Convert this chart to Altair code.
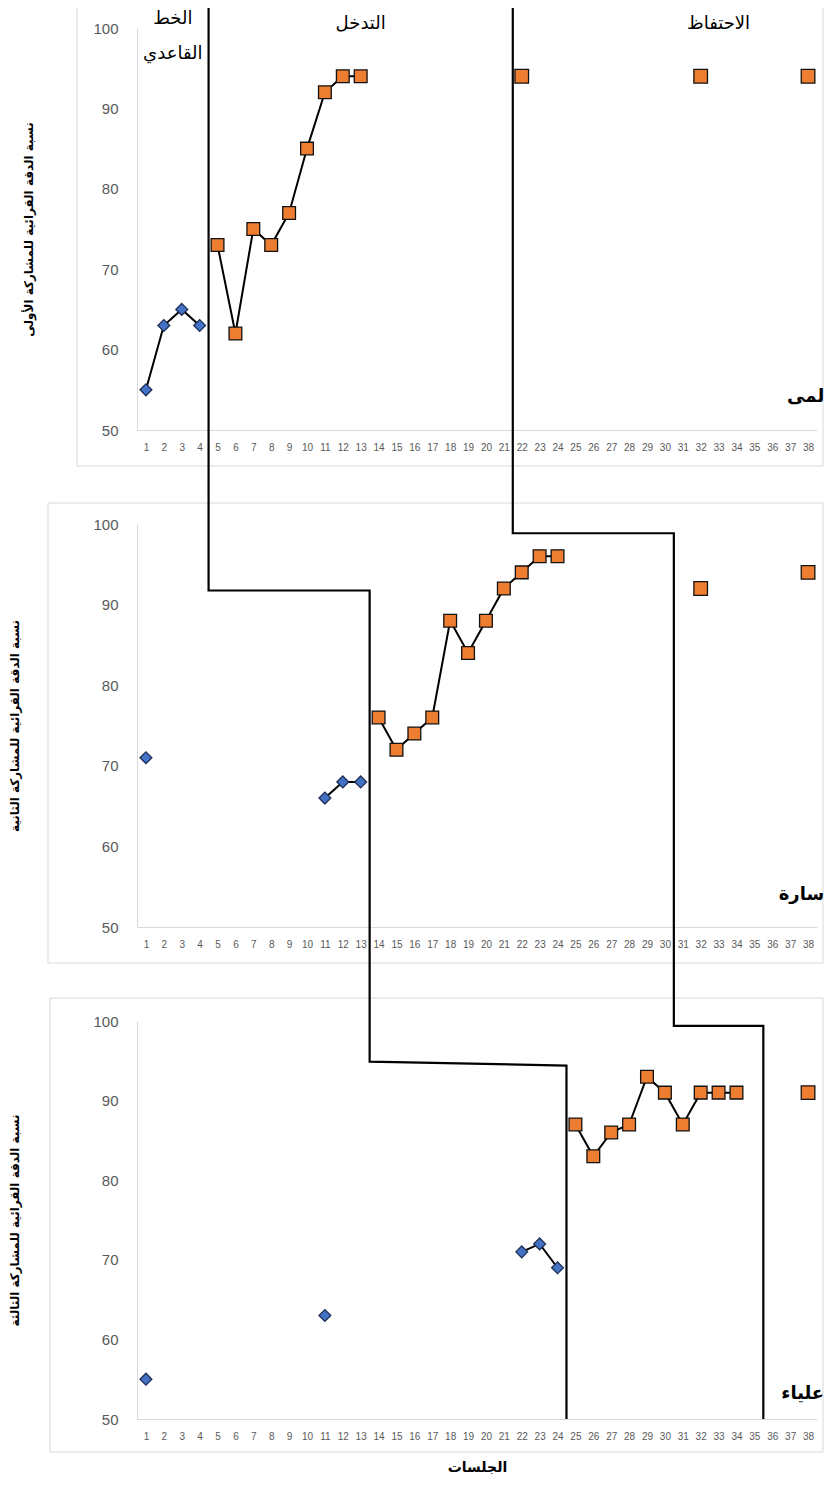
import altair as alt
import pandas as pd

# ---------------- data ----------------
sessions_p1 = [1, 2, 3, 4, 5, 6, 7, 8, 9, 10, 11, 12, 13, 22, 32, 38]
scores_p1 = [55, 63, 65, 63, 73, 62, 75, 73, 77, 85, 92, 94, 94, 94, 94, 94]
phases_p1 = ["baseline"] * 4 + ["intervention"] * 9 + ["maintenance"] * 3

sessions_p2 = [1, 11, 12, 13, 14, 15, 16, 17, 18, 19, 20, 21, 22, 23, 24, 32, 38]
scores_p2 = [71, 66, 68, 68, 76, 72, 74, 76, 88, 84, 88, 92, 94, 96, 96, 92, 94]
phases_p2 = ["baseline"] * 4 + ["intervention"] * 11 + ["maintenance"] * 2

sessions_p3 = [1, 11, 22, 23, 24, 25, 26, 27, 28, 29, 30, 31, 32, 33, 34, 38]
scores_p3 = [55, 63, 71, 72, 69, 87, 83, 86, 87, 93, 91, 87, 91, 91, 91, 91]
phases_p3 = ["baseline"] * 5 + ["intervention"] * 10 + ["maintenance"] * 1

participant_names = ["لمى", "سارة", "علياء"]
y_titles = [
    "نسبة الدقة القرائية للمشاركة الأولى",
    "نسبة الدقة القرائية للمشاركة الثانية",
    "نسبة الدقة القرائية للمشاركة الثالثة",
]
x_title = "الجلسات"
phase_labels = ["الخط", "القاعدي", "التدخل", "الاحتفاظ"]
phase_label_x = [2.5, 2.5, 13.0, 33.0]
phase_label_y = [101.1, 96.8, 100.5, 100.5]
name_x = 38.9
name_y = [54.1, 54.0, 53.2]

# phase-change boundaries (between sessions) for each participant
change_intervention = [4.5, 13.5, 24.5]
change_maintenance = [21.5, 30.5, 35.5]
# levels (start, end) of the horizontal step drawn inside panels 2 and 3
step_intervention = [None, (91.75, 91.75), (94.9, 94.4)]
step_maintenance = [None, (98.85, 98.85), (99.4, 99.4)]

x_ticks = list(range(1, 39))
y_ticks = [50, 60, 70, 80, 90, 100]

# ---------------- layout ----------------
W = 680
H = [402, 403, 398]
S = 94          # gap between panel plot areas
TOP_PX = 21     # space above first plot area
frame_left = [-60, -89, -87]
frame_top = [-21, -21, -23]
frame_bottom = [36, 36, 33]
frame_right = W + 6
y_title_pad = [57, 71, 71]

BLUE = "#4472C4"
ORANGE = "#ED7D31"

SHAPES = alt.Scale(domain=["baseline", "intervention", "maintenance"],
                   range=["diamond", "square", "square"])
FILLS = alt.Scale(domain=["baseline", "intervention", "maintenance"],
                  range=[BLUE, ORANGE, ORANGE])
STROKES = alt.Scale(domain=["baseline", "intervention", "maintenance"],
                    range=["#1F2F55", "#111111", "#111111"])
SIZES = alt.Scale(domain=["baseline", "intervention", "maintenance"],
                  range=[140, 185, 185])


def phase_paths(k):
    """Vertices of the phase-change lines inside panel k."""
    rows = []
    up = (TOP_PX if k == 0 else S / 2) * 50 / H[k]
    down = 0 if k == 2 else (S / 2) * 50 / H[k]
    for name, changes, steps in (("A", change_intervention, step_intervention),
                                 ("B", change_maintenance, step_maintenance)):
        if k == 0:
            pts = [(changes[0], 100 + up), (changes[0], 50 - down)]
        else:
            s0, s1 = steps[k]
            pts = [(changes[k - 1], 100 + up), (changes[k - 1], s0),
                   (changes[k], s1), (changes[k], 50 - down)]
        for i, (xv, yv) in enumerate(pts):
            rows.append({"x": xv, "y": yv, "seg": name, "i": i})
    return pd.DataFrame(rows)


def panel(k, sessions, scores, phases):
    run, r = [], 0
    for i in range(len(sessions)):
        if i > 0 and not (sessions[i] == sessions[i - 1] + 1 and phases[i] == phases[i - 1]):
            r += 1
        run.append(r)
    df = pd.DataFrame({"session": sessions, "score": scores, "phase": phases, "run": run})

    xscale = alt.Scale(domain=[0.5, 38.5], nice=False, zero=False)
    yscale = alt.Scale(domain=[50, 100], nice=False, zero=False)
    xaxis = alt.Axis(values=x_ticks, format="d", labelFontSize=10, labelColor="#595959",
                     labelFont="Liberation Sans", labelPadding=12, labelOverlap=False,
                     labelFlush=False, ticks=False, tickSize=0, grid=False,
                     domainColor="#d9d9d9", domainWidth=1,
                     title=(x_title if k == 2 else ""), titleFont="DejaVu Sans",
                     titleFontSize=14, titleFontWeight="bold", titleColor="black",
                     titlePadding=19)
    yaxis = alt.Axis(values=y_ticks, labelFontSize=15, labelColor="#595959",
                     labelFont="Liberation Sans", labelPadding=19, ticks=False, tickSize=0,
                     grid=False, domainColor="#d9d9d9", domainWidth=1,
                     title=y_titles[k], titleFont="DejaVu Sans", titleFontSize=12,
                     titleFontWeight="bold", titleColor="black", titlePadding=y_title_pad[k])

    def X(f):
        return alt.X(f, type="quantitative", scale=xscale, axis=xaxis)

    def Y(f):
        return alt.Y(f, type="quantitative", scale=yscale, axis=yaxis)

    frame = alt.Chart(alt.Data(values=[{"f": 1}])).mark_rect(
        fillOpacity=0, stroke="#d9d9d9", strokeWidth=1
    ).encode(
        x=alt.value(frame_left[k]), x2=alt.value(frame_right),
        y=alt.value(frame_top[k]), y2=alt.value(H[k] + frame_bottom[k]),
    )

    plines = alt.Chart(phase_paths(k)).mark_line(
        color="black", strokeWidth=2.2, clip=False
    ).encode(x=X("x"), y=Y("y"), detail="seg:N", order=alt.Order("i:Q"))

    dlines = alt.Chart(df).mark_line(color="black", strokeWidth=2).encode(
        x=X("session"), y=Y("score"), detail="run:N", order=alt.Order("session:Q")
    )

    points = alt.Chart(df).mark_point(filled=True, opacity=1, strokeWidth=1.3).encode(
        x=X("session"), y=Y("score"),
        shape=alt.Shape("phase:N", scale=SHAPES, legend=None),
        fill=alt.Fill("phase:N", scale=FILLS, legend=None),
        stroke=alt.Stroke("phase:N", scale=STROKES, legend=None),
        size=alt.Size("phase:N", scale=SIZES, legend=None),
    )

    trows = [{"x": name_x, "y": name_y[k], "t": participant_names[k]}]
    names = alt.Chart(pd.DataFrame(trows)).mark_text(
        font="DejaVu Sans", fontSize=18, fontWeight="bold", color="black",
        align="right", clip=False
    ).encode(x=X("x"), y=Y("y"), text="t:N")

    layers = [frame, plines, dlines, points, names]
    if k == 0:
        prow = pd.DataFrame({"x": phase_label_x, "y": phase_label_y, "t": phase_labels})
        plabels = alt.Chart(prow).mark_text(
            font="DejaVu Sans", fontSize=18, color="black", clip=False
        ).encode(x=X("x"), y=Y("y"), text="t:N")
        layers.append(plabels)

    return alt.layer(*layers).properties(width=W, height=H[k])


p1 = panel(0, sessions_p1, scores_p1, phases_p1)
p2 = panel(1, sessions_p2, scores_p2, phases_p2)
p3 = panel(2, sessions_p3, scores_p3, phases_p3)

chart = alt.vconcat(p1, p2, p3, spacing=S, bounds="flush").properties(
    padding={"left": 0, "right": 0, "top": -6, "bottom": 0},
    background="white",
).configure_view(strokeWidth=0)

chart.save("out.html", embed_options={"renderer": "svg", "actions": False})
